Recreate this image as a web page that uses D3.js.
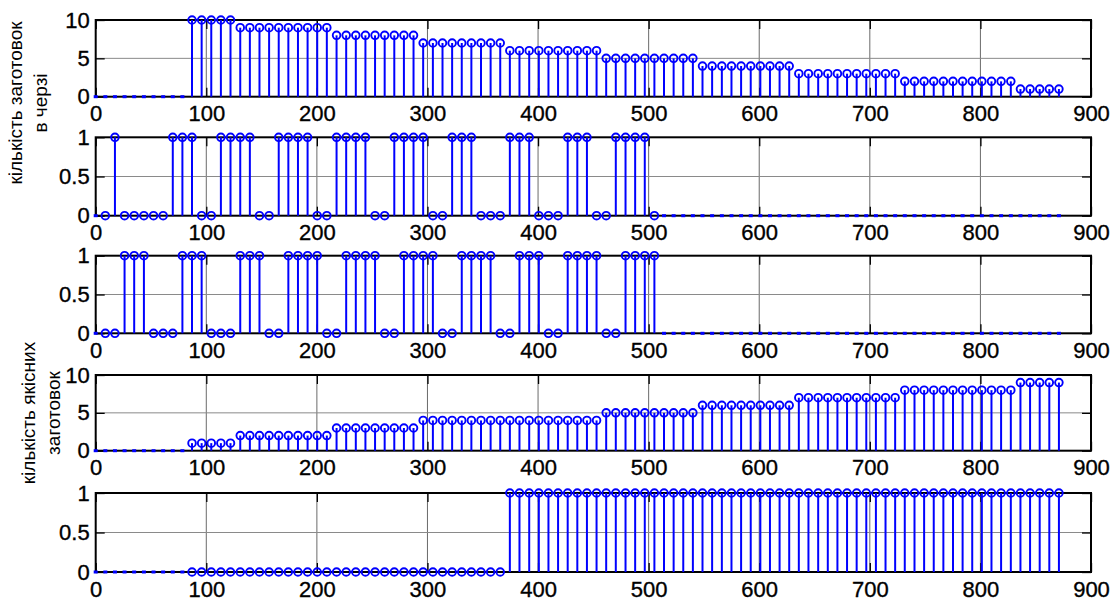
<!DOCTYPE html>
<html>
<head>
<meta charset="utf-8">
<script src="https://cdn.jsdelivr.net/npm/d3@7/dist/d3.min.js"></script>
<style>
  body { margin: 0; background: #fff; }
  text { font-family: "Liberation Sans", Arial, sans-serif; }
</style>
</head>
<body>
<svg id="chart" width="1116" height="601"></svg>
<script>
// time of each step
var t = [0, 8.7, 17.4, 26.1, 34.8, 43.6, 52.3, 61.0, 69.7, 78.4,
  87.1, 95.8, 104.5, 113.2, 121.9, 130.7, 139.4, 148.1, 156.8, 165.5,
  174.2, 182.9, 191.6, 200.3, 209.0, 217.8, 226.5, 235.2, 243.9, 252.6,
  261.3, 270.0, 278.7, 287.4, 296.1, 304.9, 313.6, 322.3, 331.0, 339.7,
  348.4, 357.1, 365.8, 374.5, 383.2, 392.0, 400.7, 409.4, 418.1, 426.8,
  435.5, 444.2, 452.9, 461.6, 470.3, 479.1, 487.8, 496.5, 505.2, 513.9,
  522.6, 531.3, 540.0, 548.7, 557.4, 566.2, 574.9, 583.6, 592.3, 601.0,
  609.7, 618.4, 627.1, 635.8, 644.5, 653.3, 662.0, 670.7, 679.4, 688.1,
  696.8, 705.5, 714.2, 722.9, 731.6, 740.4, 749.1, 757.8, 766.5, 775.2,
  783.9, 792.6, 801.3, 810.0, 818.7, 827.5, 836.2, 844.9, 853.6, 862.3, 871.0];

// null = step not recorded yet (drawn as a small dot on the baseline)
var queue = [null, null, null, null, null, null, null, null, null, null,
  10, 10, 10, 10, 10, 9, 9, 9, 9, 9, 9, 9, 9, 9, 9,
  8, 8, 8, 8, 8, 8, 8, 8, 8, 7, 7, 7, 7, 7, 7, 7, 7, 7,
  6, 6, 6, 6, 6, 6, 6, 6, 6, 6, 5, 5, 5, 5, 5, 5, 5, 5, 5, 5,
  4, 4, 4, 4, 4, 4, 4, 4, 4, 4, 3, 3, 3, 3, 3, 3, 3, 3, 3, 3, 3,
  2, 2, 2, 2, 2, 2, 2, 2, 2, 2, 2, 2, 1, 1, 1, 1, 1];

var stage1 = [null, 0, 1, 0, 0, 0, 0, 0, 1, 1, 1, 0, 0, 1, 1, 1, 1, 0, 0,
  1, 1, 1, 1, 0, 0, 1, 1, 1, 1, 0, 0, 1, 1, 1, 1, 0, 0, 1, 1, 1, 0, 0, 0,
  1, 1, 1, 0, 0, 0, 1, 1, 1, 0, 0, 1, 1, 1, 1, 0,
  null, null, null, null, null, null, null, null, null, null, null, null, null, null,
  null, null, null, null, null, null, null, null, null, null, null, null, null, null,
  null, null, null, null, null, null, null, null, null, null, null, null, null, null];

var stage2 = [null, 0, 0, 1, 1, 1, 0, 0, 0, 1, 1, 1, 0, 0, 0, 1, 1, 1, 0, 0,
  1, 1, 1, 1, 0, 0, 1, 1, 1, 1, 0, 0, 1, 1, 1, 1, 0, 0, 1, 1, 1, 1, 0, 0,
  1, 1, 1, 0, 0, 1, 1, 1, 1, 0, 0, 1, 1, 1, 1,
  null, null, null, null, null, null, null, null, null, null, null, null, null, null,
  null, null, null, null, null, null, null, null, null, null, null, null, null, null,
  null, null, null, null, null, null, null, null, null, null, null, null, null, null];

var good = [null, null, null, null, null, null, null, null, null, null,
  1, 1, 1, 1, 1, 2, 2, 2, 2, 2, 2, 2, 2, 2, 2,
  3, 3, 3, 3, 3, 3, 3, 3, 3,
  4, 4, 4, 4, 4, 4, 4, 4, 4, 4, 4, 4, 4, 4, 4, 4, 4, 4, 4,
  5, 5, 5, 5, 5, 5, 5, 5, 5, 5, 6, 6, 6, 6, 6, 6, 6, 6, 6, 6,
  7, 7, 7, 7, 7, 7, 7, 7, 7, 7, 7,
  8, 8, 8, 8, 8, 8, 8, 8, 8, 8, 8, 8, 9, 9, 9, 9, 9];

var done = [null, null, null, null, null, null, null, null, null, null,
  0, 0, 0, 0, 0, 0, 0, 0, 0, 0, 0, 0, 0, 0, 0, 0, 0, 0, 0, 0, 0, 0, 0,
  0, 0, 0, 0, 0, 0, 0, 0, 0, 0,
  1, 1, 1, 1, 1, 1, 1, 1, 1, 1, 1, 1, 1, 1, 1, 1, 1, 1, 1, 1, 1, 1, 1, 1, 1, 1, 1, 1, 1,
  1, 1, 1, 1, 1, 1, 1, 1, 1, 1, 1, 1, 1, 1, 1, 1, 1, 1, 1, 1, 1, 1, 1, 1, 1, 1, 1, 1, 1];

var xTicks = [0, 100, 200, 300, 400, 500, 600, 700, 800, 900];
var yTicks10 = [0, 5, 10];
var yTicks1 = [0, 0.5, 1];

var label1 = ["кількість заготовок", "в черзі"];
var label2 = ["кількість якісних", "заготовок"];

var svg = d3.select("#chart");
var blue = "#0000ff";

var x = d3.scaleLinear().domain([0, 900]).range([95.7, 1091]);

var panels = [
  {values: queue,  top: 20,    bottom: 96.7,  max: 10, ticks: yTicks10},
  {values: stage1, top: 137.3, bottom: 215.7, max: 1,  ticks: yTicks1},
  {values: stage2, top: 255.7, bottom: 333.3, max: 1,  ticks: yTicks1},
  {values: good,   top: 375,   bottom: 450.7, max: 10, ticks: yTicks10},
  {values: done,   top: 493,   bottom: 572,   max: 1,  ticks: yTicks1}
];

panels.forEach(function(p) {
  var y = d3.scaleLinear().domain([0, p.max]).range([p.bottom, p.top]);
  var g = svg.append("g");
  var pts = t.map(function(d, i) { return {t: d, v: p.values[i]}; });

  // grid
  g.selectAll("line.vgrid")
    .data(xTicks.slice(1, -1))
    .enter().append("line")
    .attr("class", "vgrid")
    .attr("x1", function(d) { return x(d); })
    .attr("x2", function(d) { return x(d); })
    .attr("y1", p.top).attr("y2", p.bottom)
    .attr("stroke", "#6a6a6a").attr("stroke-width", 1);
  g.selectAll("line.hgrid")
    .data(p.ticks.slice(1, -1))
    .enter().append("line")
    .attr("class", "hgrid")
    .attr("x1", x(0)).attr("x2", x(900))
    .attr("y1", function(d) { return y(d); })
    .attr("y2", function(d) { return y(d); })
    .attr("stroke", "#8a8a8a").attr("stroke-width", 1);

  // axes: ticks pointing inwards on all four sides
  var fmt = function(d) { return String(d); };
  g.append("g")
    .attr("transform", "translate(0," + p.bottom + ")")
    .call(d3.axisBottom(x).tickValues(xTicks).tickSize(-9).tickPadding(9).tickFormat(fmt));
  g.append("g")
    .attr("transform", "translate(" + x(0) + ",0)")
    .call(d3.axisLeft(y).tickValues(p.ticks).tickSize(-9).tickPadding(6).tickFormat(fmt));
  g.append("g")
    .attr("transform", "translate(0," + p.top + ")")
    .call(d3.axisTop(x).tickValues(xTicks).tickSize(-9).tickFormat(""));
  g.append("g")
    .attr("transform", "translate(" + x(900) + ",0)")
    .call(d3.axisRight(y).tickValues(p.ticks).tickSize(-9).tickFormat(""));
  g.selectAll(".domain").remove();
  g.selectAll(".tick line").attr("stroke", "#000").attr("stroke-width", 1.3);
  g.selectAll(".tick text").attr("font-size", 22).attr("fill", "#000")
    .attr("stroke", "#000").attr("stroke-width", 0.35)
    .attr("font-family", "'Liberation Sans', Arial, sans-serif");

  // box
  g.append("rect")
    .attr("x", x(0)).attr("y", p.top)
    .attr("width", x(900) - x(0)).attr("height", p.bottom - p.top)
    .attr("fill", "none").attr("stroke", "#000").attr("stroke-width", 2);

  // stems
  var rec = pts.filter(function(d) { return d.v !== null; });
  g.selectAll("line.stem")
    .data(rec)
    .enter().append("line")
    .attr("class", "stem")
    .attr("x1", function(d) { return x(d.t); })
    .attr("x2", function(d) { return x(d.t); })
    .attr("y1", y(0))
    .attr("y2", function(d) { return y(d.v); })
    .attr("stroke", blue).attr("stroke-width", 2);
  g.selectAll("circle.mark")
    .data(rec)
    .enter().append("circle")
    .attr("class", "mark")
    .attr("cx", function(d) { return x(d.t); })
    .attr("cy", function(d) { return y(d.v); })
    .attr("r", 3.8)
    .attr("fill", "none").attr("stroke", blue).attr("stroke-width", 1.9);

  // not yet recorded steps
  g.selectAll("rect.dot")
    .data(pts.filter(function(d) { return d.v === null; }))
    .enter().append("rect")
    .attr("class", "dot")
    .attr("x", function(d) { return x(d.t) - 2; })
    .attr("y", y(0) - 1.5)
    .attr("width", 4).attr("height", 3)
    .attr("fill", blue);
});

function ylabel(lines, xs, cy) {
  lines.forEach(function(s, i) {
    svg.append("text")
      .attr("transform", "translate(" + xs[i] + "," + cy + ") rotate(-90)")
      .attr("text-anchor", "middle")
      .attr("dominant-baseline", "central")
      .attr("font-size", 19)
      .attr("fill", "#000")
      .text(s);
  });
}
ylabel(label1, [15, 40], 103);
ylabel(label2, [28, 53], 413);
</script>
</body>
</html>
